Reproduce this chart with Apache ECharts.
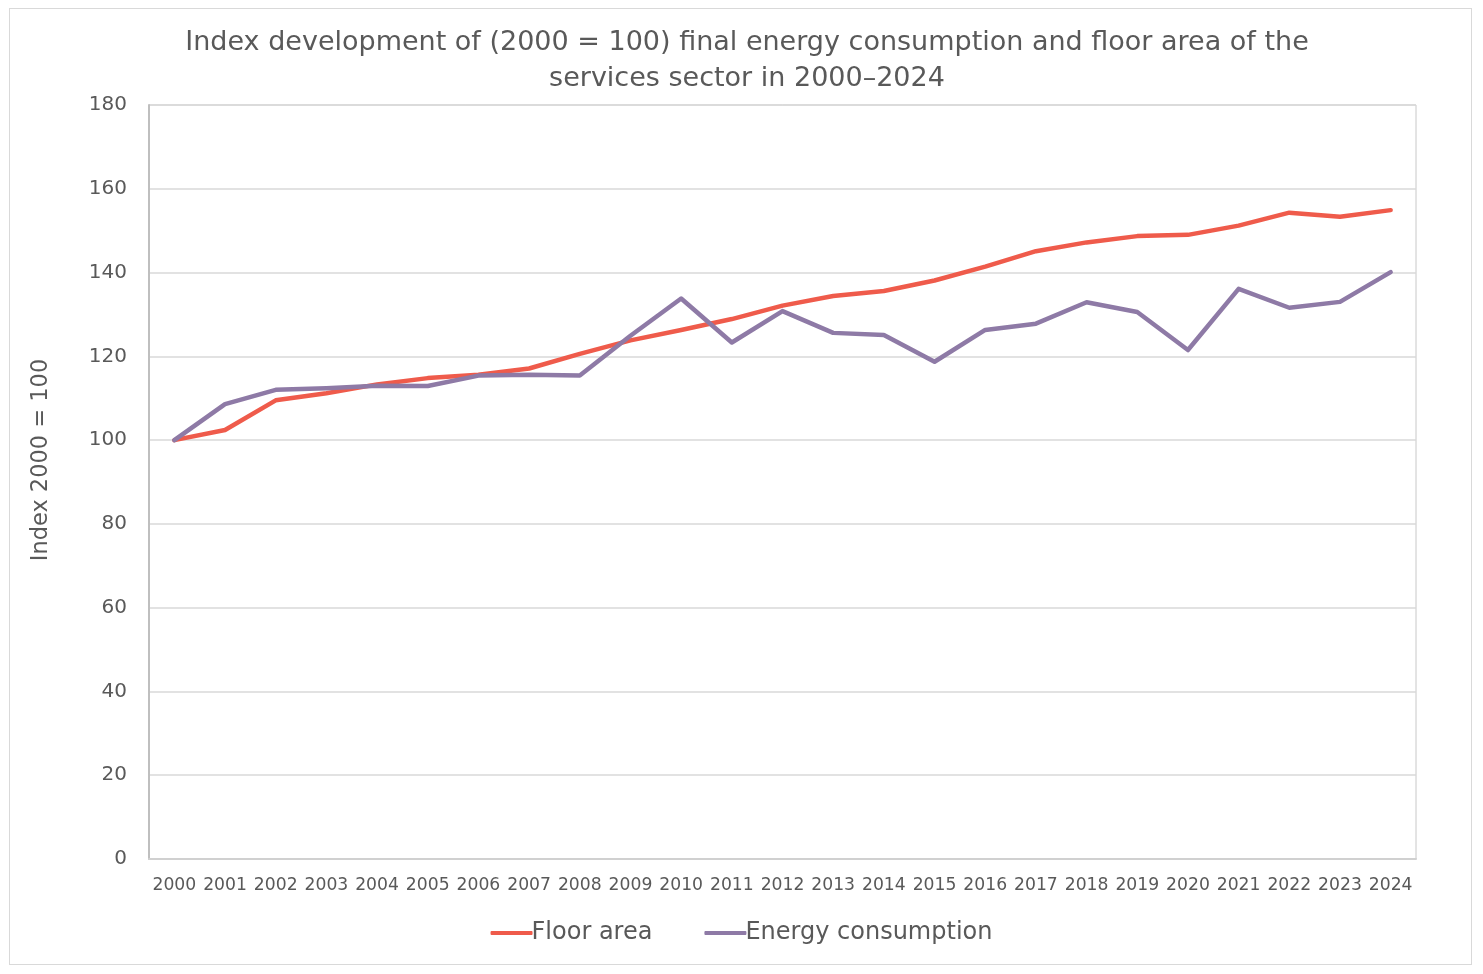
<!DOCTYPE html>
<html>
<head>
<meta charset="utf-8">
<script src="https://cdn.jsdelivr.net/npm/echarts@6/dist/echarts.min.js"></script>
<style>
html,body{margin:0;padding:0;background:#fff;}
#frame{position:absolute;left:9px;top:8px;width:1463px;height:957px;border:1px solid #d9d9d9;box-sizing:border-box;}
#chart{position:absolute;left:0;top:0;width:1483px;height:974px;}
</style>
</head>
<body>
<div id="frame"></div>
<div id="chart"></div>
<script>
const years = ['2000','2001','2002','2003','2004','2005','2006','2007','2008','2009','2010','2011','2012','2013','2014','2015','2016','2017','2018','2019','2020','2021','2022','2023','2024'];
const floorArea = [100, 102.4, 109.5, 111.2, 113.3, 114.8, 115.6, 117.1, 120.6, 123.8, 126.3, 128.9, 132.1, 134.4, 135.6, 138.1, 141.4, 145.1, 147.2, 148.7, 149.0, 151.2, 154.3, 153.3, 154.9];
const energy = [100, 108.6, 112.0, 112.4, 113.0, 112.9, 115.4, 115.6, 115.4, 124.9, 133.8, 123.3, 130.8, 125.6, 125.1, 118.7, 126.3, 127.8, 132.9, 130.6, 121.5, 136.1, 131.6, 133.0, 140.1];
const yTicks = {min: 0, max: 180, interval: 20};
const titleText = 'Index development of (2000 = 100) final energy consumption and floor area of the\nservices sector in 2000–2024';

const font = '"DejaVu Sans", sans-serif';
const txt = '#595959';
const chart = echarts.init(document.getElementById('chart'));
chart.setOption({
  animation: false,
  textStyle: {fontFamily: font, color: txt},
  title: {
    text: titleText,
    left: 742, top: 20, textAlign: 'center',
    textStyle: {fontFamily: font, fontSize: 27, fontWeight: 'normal', color: txt, lineHeight: 36}
  },
  legend: {
    bottom: 24, left: 'center',
    itemWidth: 42, itemHeight: 4, itemGap: 52,
    icon: 'roundRect',
    textStyle: {fontFamily: font, fontSize: 24, color: txt, padding: [0,0,0,-6]},
    data: ['Floor area', 'Energy consumption']
  },
  grid: {
    left: 149, right: 67, top: 105, bottom: 115,
    show: true, borderColor: '#c8c8c8', borderWidth: 1
  },
  xAxis: {
    type: 'category', data: years, boundaryGap: true,
    axisLine: {show: true, lineStyle: {color: '#d0d0d0', width: 2}},
    axisTick: {show: false},
    axisLabel: {fontFamily: font, fontSize: 17.2, color: txt, margin: 18, interval: 0}
  },
  yAxis: {
    type: 'value', min: yTicks.min, max: yTicks.max, interval: yTicks.interval,
    name: 'Index 2000 = 100', nameLocation: 'middle', nameGap: 96, nameRotate: 90,
    nameTextStyle: {fontFamily: font, fontSize: 22.5, color: txt, padding: [0,0,0,44]},
    axisLine: {show: true, lineStyle: {color: '#bfbfbf', width: 2}},
    axisTick: {show: false},
    axisLabel: {fontFamily: font, fontSize: 20, color: txt, margin: 22},
    splitLine: {lineStyle: {color: '#d9d9d9', width: 1.5}}
  },
  series: [
    {name: 'Floor area', type: 'line', data: floorArea, showSymbol: false, symbol: 'none',
     lineStyle: {color: '#EF5B4B', width: 4.5, cap: 'round', join: 'round'}, itemStyle: {color: '#EF5B4B'}},
    {name: 'Energy consumption', type: 'line', data: energy, showSymbol: false, symbol: 'none',
     lineStyle: {color: '#8E7AA6', width: 4.5, cap: 'round', join: 'round'}, itemStyle: {color: '#8E7AA6'}}
  ]
});
</script>
</body>
</html>
